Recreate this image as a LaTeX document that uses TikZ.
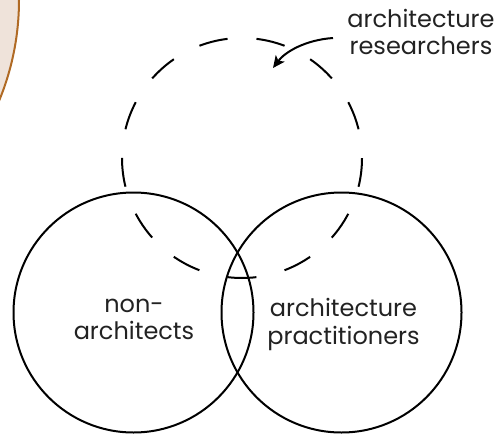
\documentclass[tikz,border=0pt]{standalone}
\usepackage{fontspec}
\setmainfont{Poppins}
\usetikzlibrary{arrows.meta}
\definecolor{beigefill}{HTML}{EFE3DA}
\definecolor{beigeline}{HTML}{B06A24}
\definecolor{txt}{HTML}{222222}
\tikzset{
  venn/.style={circle, draw=black, line width=2pt, minimum size=240pt, inner sep=0pt, outer sep=0pt},
  dashvenn/.style={venn, dash pattern=on 28.999pt off 28.999pt, dash phase=28.999pt},
  lbl/.style={align=center, text=txt, font=\fontsize{24}{27.5}\selectfont, inner sep=0pt, anchor=base},
  pointer/.style={line width=2pt, -{Stealth[length=12pt,width=11pt,inset=3pt]}}
}
\begin{document}
\begin{tikzpicture}[x=1pt,y=-1pt]
\useasboundingbox (0,0) rectangle (495,436);
\clip (0,0) rectangle (495,436);
\node[circle, fill=beigefill, draw=beigeline, line width=2pt, minimum size=528pt, inner sep=0pt] (B) at (-245,0) {};
\node[dashvenn] (D) at (242,158) {};
\node[venn] (L) at (133.5,312.5) {};
\node[venn] (R) at (341.5,312.5) {};
\node[lbl] (Ltext) at (134,339.5) {non-\\architects};
\node[lbl] (Rtext) at (343.5,344) {architecture\\practitioners};
\node[lbl] (Top) at (421,55) {architecture\\researchers};
\coordinate (as) at (333,38);
\coordinate (at) at (273,68);
\draw[pointer] (as) .. controls (305,40) and (285,52) .. (at);
\end{tikzpicture}
\end{document}
